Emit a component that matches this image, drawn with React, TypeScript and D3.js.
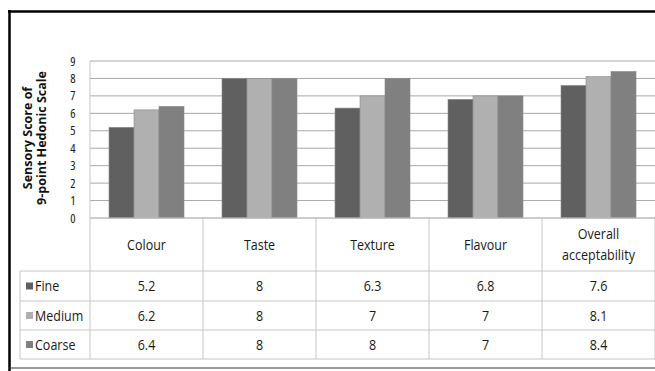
import React from "react";
import * as d3 from "d3";

const categories = ["Colour", "Taste", "Texture", "Flavour", "Overall acceptability"];
const seriesNames = ["Fine", "Medium", "Coarse"];
const fine = [5.2, 8, 6.3, 6.8, 7.6];
const medium = [6.2, 8, 7, 7, 8.1];
const coarse = [6.4, 8, 8, 7, 8.4];
const seriesValues = [fine, medium, coarse];
const seriesColors = ["#606060", "#b0b0b0", "#808080"];
const yTicks = [0, 1, 2, 3, 4, 5, 6, 7, 8, 9];

const FONT = "'Open Sans', 'Liberation Sans', sans-serif";
const SY = 1.2;

function T({ x, y, children, anchor = "middle", size = 12.5, sy = SY, weight = "normal", stretch = "91%" }: any) {
  return (
    <g transform={`translate(${x},${y}) scale(1,${sy})`}>
      <text x={0} y={0} dy="0.36em" textAnchor={anchor} fontSize={size} fontWeight={weight}
        fill="#1a1a1a" style={{ fontStretch: stretch }}>{children}</text>
    </g>
  );
}

export default function App() {
  const W = 655, H = 371;
  const plotLeft = 90, plotRight = 655, plotTop = 61, plotBottom = 218;
  const x = d3.scaleBand<string>().domain(categories).range([plotLeft, plotRight]).padding(0);
  const x1 = d3.scaleBand<string>().domain(seriesNames).range([0, x.bandwidth()]).paddingInner(0).paddingOuter(0.76);
  const y = d3.scaleLinear().domain([0, 9]).range([plotBottom, plotTop]);

  const headerBottom = 271;
  const rowEdges = [271, 301, 330, 359];
  const legendLeft = 20;
  const gridColor = "#a8a8a8";
  const tableColor = "#c6c6c6";

  return (
    <svg width={W} height={H} style={{ position: "absolute", left: 0, top: 0, background: "#fff" }} fontFamily={FONT}>
      <rect x={0} y={0} width={W} height={H} fill="#fff" />
      {yTicks.map((t) => (
        <line key={"g" + t} x1={plotLeft} x2={plotRight} y1={y(t)} y2={y(t)} stroke={gridColor} strokeWidth={1} />
      ))}
      {categories.map((c, ci) => (
        <g key={c}>
          {seriesNames.map((s, si) => {
            const v = seriesValues[si][ci];
            return (
              <rect key={s} x={x(c)! + x1(s)!} y={y(v)} width={x1.bandwidth()} height={y(0) - y(v)}
                fill={seriesColors[si]} stroke="#8a8a8a" strokeWidth={0.6} />
            );
          })}
        </g>
      ))}
      <line x1={plotLeft} x2={plotLeft} y1={plotTop} y2={rowEdges[3]} stroke={tableColor} />
      {yTicks.map((t) => (
        <text key={"t" + t} x={73} y={y(t)} dy="0.36em" textAnchor="middle" fontSize={12.5}
          fill="#1a1a1a" style={{ fontStretch: "85%" }}>{t}</text>
      ))}
      <g transform={`translate(0, 138) rotate(-90)`} fontWeight="bold" fontSize={12.5} fill="#111" textAnchor="middle">
        <text x={0} y={32}>Sensory Score of</text>
        <text x={0} y={46}>9-point Hedonic Scale</text>
      </g>
      {categories.map((c) => (
        <line key={"v" + c} x1={x(c)! + x.bandwidth()} x2={x(c)! + x.bandwidth()} y1={plotBottom} y2={rowEdges[3]} stroke={tableColor} />
      ))}
      <line x1={plotLeft} x2={plotRight} y1={plotBottom} y2={plotBottom} stroke={tableColor} />
      {rowEdges.map((r) => (
        <line key={"r" + r} x1={legendLeft} x2={plotRight} y1={r} y2={r} stroke={tableColor} />
      ))}
      <line x1={legendLeft} x2={legendLeft} y1={rowEdges[0]} y2={rowEdges[3]} stroke={tableColor} />
      {categories.map((c) => {
        const cx = x(c)! + x.bandwidth() / 2;
        const words = c === "Overall acceptability" ? ["Overall", "acceptability"] : [c];
        const cy = (plotBottom + headerBottom) / 2;
        return (
          <g key={"h" + c}>
            {words.map((w, i) => (
              <T key={w} x={cx} y={cy + (i - (words.length - 1) / 2) * 21}>{w}</T>
            ))}
          </g>
        );
      })}
      {seriesNames.map((s, si) => {
        const cy = (rowEdges[si] + rowEdges[si + 1]) / 2;
        return (
          <g key={"row" + s}>
            <rect x={26} y={cy - 3.5} width={7} height={7} fill={seriesColors[si]} />
            <T x={35} y={cy} anchor="start">{s}</T>
            {categories.map((c, ci) => (
              <T key={c} x={x(c)! + x.bandwidth() / 2} y={cy}>{seriesValues[si][ci]}</T>
            ))}
          </g>
        );
      })}
      <line x1={8} x2={W} y1={11.5} y2={11.5} stroke="#000" strokeWidth={2.5} />
      <line x1={9.5} x2={9.5} y1={10} y2={H} stroke="#000" strokeWidth={2.5} />
      <line x1={9} x2={W} y1={368} y2={368} stroke="#333" strokeWidth={1} />
    </svg>
  );
}
